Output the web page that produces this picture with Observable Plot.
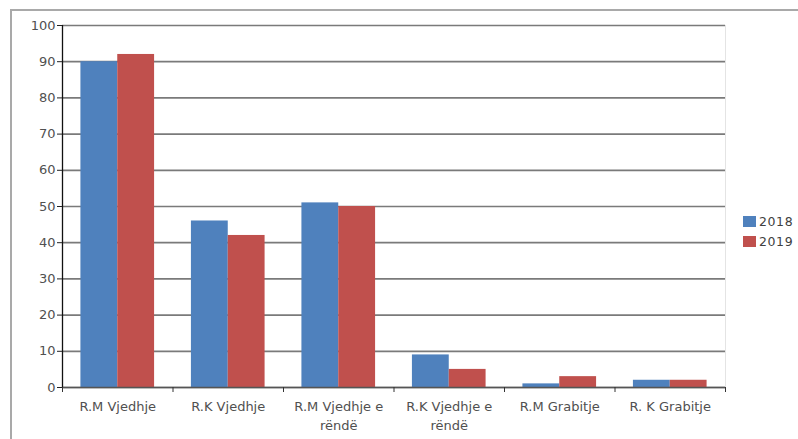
<!DOCTYPE html>
<html><head><meta charset="utf-8">
<script src="https://cdn.jsdelivr.net/npm/d3@7"></script>
<script src="https://cdn.jsdelivr.net/npm/@observablehq/plot@0.6"></script>
<style>
body{margin:0;background:#fff;}
#wrap{position:relative;width:798px;height:439px;overflow:hidden;font-family:"DejaVu Sans",sans-serif;}
#border{position:absolute;left:10px;top:9px;width:900px;height:600px;border-top:2px solid #a9a9a9;border-left:2px solid #a9a9a9;pointer-events:none;}
#chart{position:absolute;left:0;top:0;}
#legend{position:absolute;left:743px;top:211px;font-size:12.5px;letter-spacing:0.6px;color:#404040;}
#legend .row{display:flex;align-items:center;height:20px;}
#legend .sw{width:13px;height:11px;margin-right:3px;}
</style></head>
<body>
<div id="wrap"><div id="chart"></div><div id="border"></div><div id="legend"></div></div>
<script>
const categories = ["R.M Vjedhje", "R.K Vjedhje", "R.M Vjedhje e rëndë", "R.K Vjedhje e rëndë", "R.M Grabitje", "R. K Grabitje"];
const tickLabels = ["R.M Vjedhje", "R.K Vjedhje", "R.M Vjedhje e\nrëndë", "R.K Vjedhje e\nrëndë", "R.M Grabitje", "R. K Grabitje"];
const series = ["2018", "2019"];
const values2018 = [90, 46, 51, 9, 1, 2];
const values2019 = [92, 42, 50, 5, 3, 2];
const colors = ["#4F81BD", "#C0504D"];
const yTicks = [0, 10, 20, 30, 40, 50, 60, 70, 80, 90, 100];

const seriesValues = [values2018, values2019];
const table = [];
categories.forEach((c, i) => series.forEach((s, j) => table.push({cat: c, idx: i, series: s, value: seriesValues[j][i]})));
const inner = d3.scaleBand(series, [0, 1]).paddingInner(0).paddingOuter(0.5);

const plot = Plot.plot({
  width: 798, height: 439,
  marginLeft: 62, marginRight: 73, marginTop: 25, marginBottom: 52,
  style: {fontFamily: "DejaVu Sans, sans-serif", fontSize: "13px", background: "transparent"},
  x: {type: "linear", domain: [0, categories.length]},
  y: {domain: [0, 100]},
  color: {domain: series, range: colors},
  marks: [
    Plot.gridY(yTicks, {stroke: "#7a7a7a", strokeOpacity: 1, strokeWidth: 1.7}),
    Plot.ruleX([categories.length], {stroke: "#e4e4e4"}),
    Plot.rectY(table, {
      x1: d => d.idx + inner(d.series),
      x2: d => d.idx + inner(d.series) + inner.bandwidth(),
      y: "value", fill: "series"
    }),
    Plot.ruleY([0], {stroke: "#555", strokeWidth: 1.3}),
    Plot.ruleX([0], {stroke: "#111", strokeWidth: 1.3}),
    Plot.axisY(yTicks, {tickSize: 5, tickPadding: 2, stroke: "#222", fill: "#505050", fontSize: 13, style: "letter-spacing:1px", label: null}),
    Plot.axisX(d3.range(categories.length + 1), {tickSize: 5, stroke: "#333", tickFormat: () => "", label: null}),
    Plot.text(tickLabels, {
      x: (d, i) => i + 0.5, y: () => 0, dy: 10, lineAnchor: "top", lineHeight: 1.45,
      fill: "#505050", fontSize: 13, style: "letter-spacing:1px"
    })
  ]
});
document.getElementById("chart").appendChild(plot);

const legend = document.getElementById("legend");
series.forEach((s, j) => {
  const row = document.createElement("div"); row.className = "row";
  const sw = document.createElement("div"); sw.className = "sw"; sw.style.background = colors[j];
  const t = document.createElement("span"); t.textContent = s;
  row.appendChild(sw); row.appendChild(t); legend.appendChild(row);
});
</script>
</body></html>
